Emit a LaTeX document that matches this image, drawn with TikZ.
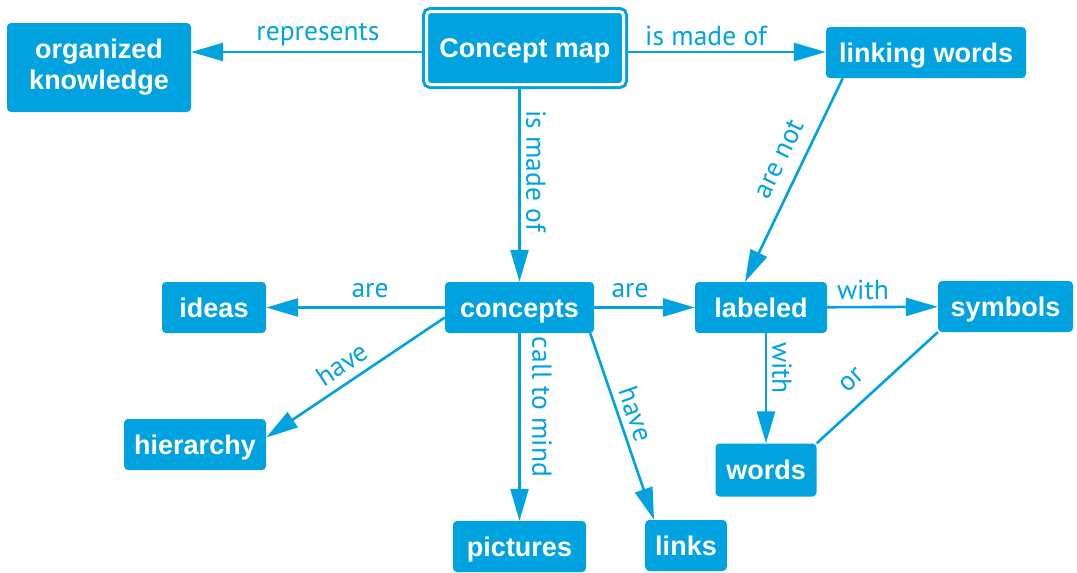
\documentclass[tikz,border=0pt]{standalone}
\usepackage{fontspec}
\setmainfont{Liberation Sans}
\newfontfamily\lblfont{PT Sans}
\usetikzlibrary{arrows.meta}
\definecolor{cmblue}{RGB}{0,163,224}
\tikzset{
  box/.style={fill=cmblue, text=white, rounded corners=4pt, inner xsep=10pt,
              minimum height=51pt, font=\fontsize{27}{31}\selectfont\bfseries, align=center},
  concept/.style={box, text height=22pt, text depth=3pt},
  link/.style={draw=cmblue, line width=2.6pt, -{Triangle[length=32pt,width=18pt]}},
  lbl/.style={text=cmblue, inner sep=0pt, font=\fontsize{27.5}{30}\lblfont}
}
\begin{document}
\begin{tikzpicture}[x=1pt,y=-1pt]
  \useasboundingbox (0,0) rectangle (1077,573);

  % the concepts
  \node[concept, draw=cmblue, double=white, double distance=3pt, line width=3pt,
        minimum width=197pt, minimum height=73pt] (cmap) at (525,48) {Concept map};
  \node[box, minimum width=184pt, minimum height=89pt] (orgk) at (99,67.5) {organized\\knowledge};
  \node[concept, minimum width=200pt] (lwords) at (926,52.5) {linking words};
  \node[concept, minimum width=104pt] (ideas)    at (214,307.5) {ideas};
  \node[concept, minimum width=149pt] (concepts) at (519.5,307.5) {concepts};
  \node[concept, minimum width=132pt] (labeled)  at (761,307.5) {labeled};
  \node[concept, minimum width=135pt] (symbols)  at (1005.5,306.5) {symbols};
  \node[concept, minimum width=142pt] (hier)     at (195,444.5) {hierarchy};
  \node[concept, minimum width=101pt, minimum height=53pt] (words) at (766,470) {words};
  \node[concept, minimum width=133pt] (pictures) at (519.5,546.5) {pictures};
  \node[concept, minimum width=81pt]  (links)    at (686,545.5) {links};

  % the links
  \draw[link] ([yshift=-4pt]cmap.west) -- ([yshift=-4pt]cmap.west -| orgk.east);
  \draw[link] ([yshift=-4pt]cmap.east) -- ([yshift=-4pt]cmap.east -| lwords.west);
  \draw[link] (cmap.south -| concepts) -- (concepts.north);
  \draw[link] ([xshift=17pt]lwords.south west) -- ([xshift=-16pt]labeled.north);
  \draw[link] (concepts) -- (ideas);
  \draw[link] (concepts) -- (labeled);
  \draw[link] ([yshift=-10pt]concepts.west) -- ([yshift=7pt]hier.east);
  \draw[link] (concepts) -- (pictures);
  \draw[link] ([xshift=-4pt]concepts.south east) -- ([xshift=9pt]links.north west);
  \draw[link] (labeled) -- (symbols);
  \draw[link] (labeled.south -| words) -- (words.north);
  \draw[link, -] (symbols.south west) -- (words.north east);

  % the linking words
  \node[lbl] (l1) at (318,35) {represents};
  \node[lbl] (l2) at (706,36) {is made of};
  \node[lbl, rotate=-90] (l3) at (536,171) {is made of};
  \node[lbl, rotate=64] (l4) at (779,159) {are not};
  \node[lbl] (l5) at (370,291) {are};
  \node[lbl] (l6) at (630,291) {are};
  \node[lbl, rotate=34] (l7) at (342,364) {have};
  \node[lbl, rotate=-90] (l8) at (542,407) {call to mind};
  \node[lbl, rotate=-71] (l9) at (636,414) {have};
  \node[lbl] (l10) at (863,290) {with};
  \node[lbl, rotate=-90] (l11) at (782,368) {with};
  \node[lbl, rotate=42] (l12) at (852,380) {or};
\end{tikzpicture}
\end{document}
